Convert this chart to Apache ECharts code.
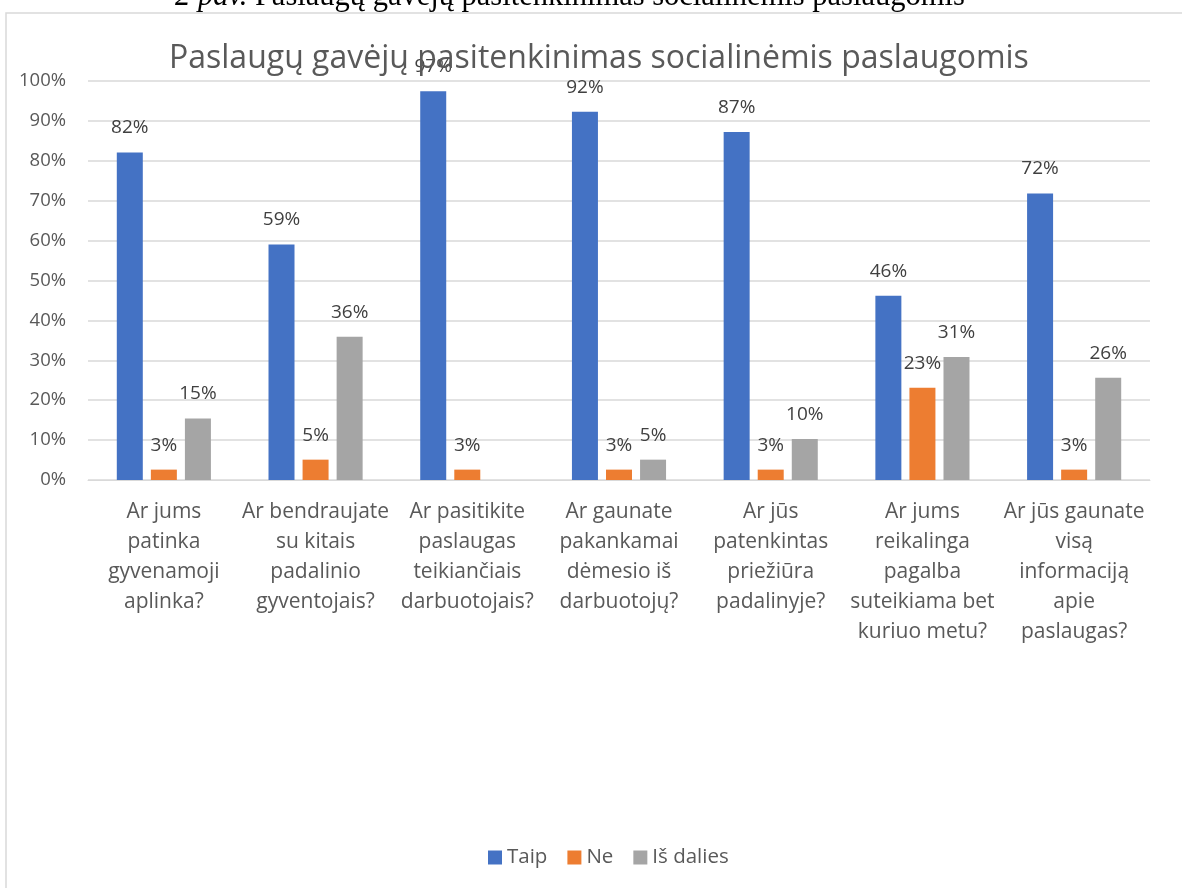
<!DOCTYPE html>
<html>
<head>
<meta charset="utf-8">
<script src="https://cdn.jsdelivr.net/npm/echarts@6/dist/echarts.min.js"></script>
<style>
  html, body { margin: 0; padding: 0; background: #fff; }
  #chart { width: 1182px; height: 888px; }
</style>
</head>
<body>
<div id="chart"></div>
<script>
// klausimai (kategorijos)
const categories = [
  'Ar jums\npatinka\ngyvenamoji\naplinka?',
  'Ar bendraujate\nsu kitais\npadalinio\ngyventojais?',
  'Ar pasitikite\npaslaugas\nteikiančiais\ndarbuotojais?',
  'Ar gaunate\npakankamai\ndėmesio iš\ndarbuotojų?',
  'Ar jūs\npatenkintas\npriežiūra\npadalinyje?',
  'Ar jums\nreikalinga\npagalba\nsuteikiama bet\nkuriuo metu?',
  'Ar jūs gaunate\nvisą\ninformaciją\napie\npaslaugas?'
];
const seriesNames = ['Taip', 'Ne', 'Iš dalies'];
// procentai
const taip = [82.1, 59.0, 97.4, 92.3, 87.2, 46.2, 71.8];
const ne = [2.6, 5.1, 2.6, 2.6, 2.6, 23.1, 2.6];
const isDalies = [15.4, 35.9, 0, 5.1, 10.3, 30.8, 25.6];
const colors = ['#4472C4', '#ED7D31', '#A5A5A5'];

const font = '"Open Sans", "Noto Sans", sans-serif';
const txt = '#595959';

const chart = echarts.init(document.getElementById('chart'));

function barSeries(name, data) {
  return {
    name: name,
    type: 'bar',
    data: data,
    barWidth: 26,
    barGap: '31%',
    label: {
      show: true,
      position: 'top',
      distance: 15,
      fontFamily: font,
      fontSize: 19,
      color: '#404040',
      formatter: (p) => p.value > 0 ? Math.round(p.value) + '%' : ''
    }
  };
}

chart.setOption({
  color: colors,
  backgroundColor: '#fff',
  animation: false,
  title: {
    text: 'Paslaugų gavėjų pasitenkinimas socialinėmis paslaugomis',
    left: 169,
    top: 43,
    padding: 0,
    textStyle: { fontFamily: font, fontSize: 32, fontWeight: 'normal', color: txt }
  },
  graphic: [
    {
      type: 'rect',
      silent: true,
      z: -1,
      shape: { x: 6, y: 13, width: 1300, height: 1000 },
      style: { fill: 'none', stroke: '#D9D9D9', lineWidth: 1.5 }
    },
    {
      type: 'text',
      silent: true,
      x: 175,
      y: -3,
      style: {
        text: '{i|2 pav.} {n|Paslaugų gavėjų pasitenkinimas socialinėmis paslaugomis}',
        verticalAlign: 'middle',
        rich: {
          i: { fontFamily: '"Liberation Serif", serif', fontStyle: 'italic', fontSize: 30.5, fill: '#000' },
          n: { fontFamily: '"Liberation Serif", serif', fontSize: 30.5, fill: '#000' }
        },
        fontFamily: '"Liberation Serif", serif',
        fontSize: 30.5
      }
    }
  ],
  legend: {
    data: seriesNames,
    left: 483,
    top: 842,
    itemWidth: 14,
    itemHeight: 14,
    itemGap: 20,
    icon: 'rect',
    textStyle: { fontFamily: font, fontSize: 20.5, color: txt }
  },
  grid: { left: 88, right: 32, top: 81, bottom: 408, containLabel: false },
  xAxis: {
    type: 'category',
    data: categories,
    axisTick: { show: false },
    axisLine: { lineStyle: { color: '#D9D9D9' } },
    axisLabel: {
      interval: 0,
      margin: 17,
      fontFamily: font,
      fontSize: 21,
      lineHeight: 30,
      color: txt
    }
  },
  yAxis: {
    type: 'value',
    min: 0,
    max: 100,
    interval: 10,
    axisLabel: { formatter: '{value}%', fontFamily: font, fontSize: 18.5, color: txt, margin: 22 },
    splitLine: { lineStyle: { color: '#D9D9D9', width: 1.5 } },
    axisLine: { show: false },
    axisTick: { show: false }
  },
  series: [
    barSeries(seriesNames[0], taip),
    barSeries(seriesNames[1], ne),
    barSeries(seriesNames[2], isDalies)
  ]
});
</script>
</body>
</html>
